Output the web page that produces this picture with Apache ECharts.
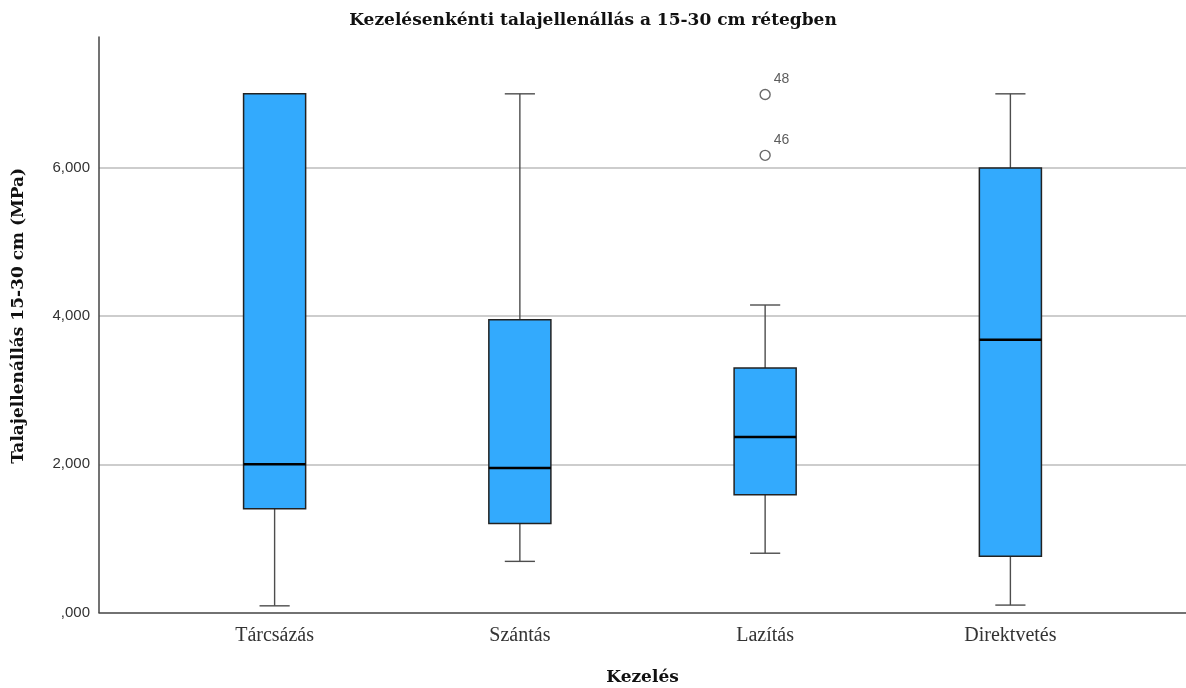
<!DOCTYPE html>
<html>
<head>
<meta charset="utf-8">
<script src="https://cdn.jsdelivr.net/npm/echarts@6/dist/echarts.min.js"></script>
<style>
  html, body { margin: 0; padding: 0; background: #fff; }
  #chart { width: 1186px; height: 688px; }
</style>
</head>
<body>
<div id="chart"></div>
<script>
// Treatments (x categories)
const categories = ['Tárcsázás', 'Szántás', 'Lazítás', 'Direktvetés'];

// Five-number summaries per treatment, MPa
const whiskerLow = [0.09, 0.69, 0.80, 0.10];
const quartile1 = [1.40, 1.20, 1.59, 0.76];
const medians = [2.00, 1.95, 2.37, 3.68];
const quartile3 = [7.00, 3.95, 3.30, 6.00];
const whiskerHigh = [7.00, 7.00, 4.15, 7.00];

// Outliers: treatment index, value, case number
const outlierCategory = [2, 2];
const outlierValues = [6.99, 6.17];
const outlierCases = ['48', '46'];

// Y axis ticks
const yTicks = [0, 2, 4, 6];

const boxData = categories.map((c, i) => [
  i + 1, whiskerLow[i], quartile1[i], medians[i], quartile3[i], whiskerHigh[i]
]);
const outlierData = outlierValues.map((v, i) => [outlierCategory[i] + 1, v, outlierCases[i]]);

const fmt = v => {
  const s = v.toFixed(3).replace('.', ',');
  return s.startsWith('0') ? s.slice(1) : s;
};

const chart = echarts.init(document.getElementById('chart'), null, { renderer: 'canvas' });

chart.setOption({
  animation: false,
  backgroundColor: '#ffffff',
  title: {
    text: 'Kezelésenkénti talajellenállás a 15-30 cm rétegben',
    left: 'center',
    top: 7,
    textStyle: {
      fontFamily: 'DejaVu Serif',
      fontWeight: 'bold',
      fontSize: 17,
      color: '#111'
    }
  },
  grid: {
    left: 99, right: 0, top: 37, bottom: 75.5,
    containLabel: false,
    outerBoundsMode: 'none'
  },
  xAxis: {
    type: 'value',
    min: 0.284,
    max: 4.716,
    name: 'Kezelés',
    nameLocation: 'middle',
    nameGap: 57,
    nameTextStyle: {
      fontFamily: 'DejaVu Serif',
      fontWeight: 'bold',
      fontSize: 17,
      color: '#111'
    },
    axisLine: { show: true, onZero: false, lineStyle: { color: '#444', width: 1.5 } },
    axisTick: { show: false },
    splitLine: { show: false },
    axisLabel: {
      customValues: categories.map((c, i) => i + 1),
      formatter: v => categories[Math.round(v) - 1] || '',
      fontFamily: 'Liberation Serif',
      fontSize: 20,
      color: '#333',
      margin: 13
    }
  },
  yAxis: {
    type: 'value',
    min: 0,
    max: 7.767,
    interval: 2,
    name: 'Talajellenállás 15-30 cm (MPa)',
    nameLocation: 'middle',
    nameGap: 72,
    nameTextStyle: {
      fontFamily: 'DejaVu Serif',
      fontWeight: 'bold',
      fontSize: 17,
      color: '#111',
      padding: [0, 0, 0, 18]
    },
    axisLine: { show: true, lineStyle: { color: '#444', width: 1.5 } },
    axisTick: { show: false },
    splitLine: {
      show: true,
      showMinLine: false,
      showMaxLine: false,
      lineStyle: { color: '#bdbdbd', width: 1.5 }
    },
    axisLabel: {
      customValues: yTicks,
      formatter: fmt,
      fontFamily: 'Liberation Sans',
      fontSize: 15,
      color: '#333',
      margin: 9
    }
  },
  series: [
    {
      type: 'custom',
      name: 'box',
      data: boxData,
      encode: { x: 0, y: [1, 2, 3, 4, 5] },
      renderItem: function (params, api) {
        const x = api.value(0);
        const lo = api.coord([x, api.value(1)]);
        const q1 = api.coord([x, api.value(2)]);
        const med = api.coord([x, api.value(3)]);
        const q3 = api.coord([x, api.value(4)]);
        const hi = api.coord([x, api.value(5)]);
        const boxW = api.size([0.253, 0])[0];
        const capW = api.size([0.123, 0])[0];
        const cx = lo[0];
        const whisker = { stroke: '#4d4d4d', lineWidth: 1.4 };
        const children = [];
        if (Math.abs(q1[1] - lo[1]) > 0.5) {
          children.push({ type: 'line', shape: { x1: cx, y1: q1[1], x2: cx, y2: lo[1] }, style: whisker });
          children.push({ type: 'line', shape: { x1: cx - capW / 2, y1: lo[1], x2: cx + capW / 2, y2: lo[1] }, style: whisker });
        }
        if (Math.abs(q3[1] - hi[1]) > 0.5) {
          children.push({ type: 'line', shape: { x1: cx, y1: q3[1], x2: cx, y2: hi[1] }, style: whisker });
          children.push({ type: 'line', shape: { x1: cx - capW / 2, y1: hi[1], x2: cx + capW / 2, y2: hi[1] }, style: whisker });
        }
        children.push({
          type: 'rect',
          shape: { x: cx - boxW / 2, y: q3[1], width: boxW, height: q1[1] - q3[1] },
          style: { fill: '#33aafd', stroke: '#222', lineWidth: 1.5 }
        });
        children.push({
          type: 'line',
          shape: { x1: cx - boxW / 2, y1: med[1], x2: cx + boxW / 2, y2: med[1] },
          style: { stroke: '#000', lineWidth: 2.5 }
        });
        return { type: 'group', children: children };
      },
      z: 3
    },
    {
      type: 'scatter',
      name: 'outliers',
      data: outlierData,
      encode: { x: 0, y: 1 },
      symbol: 'circle',
      symbolSize: 10,
      itemStyle: { color: '#fff', borderColor: '#444', borderWidth: 1.4 },
      label: {
        show: true,
        position: 'right',
        distance: 3,
        offset: [0, -15],
        formatter: p => p.value[2],
        fontFamily: 'Liberation Sans',
        fontSize: 14,
        color: '#333'
      },
      z: 4
    }
  ]
});
</script>
</body>
</html>
